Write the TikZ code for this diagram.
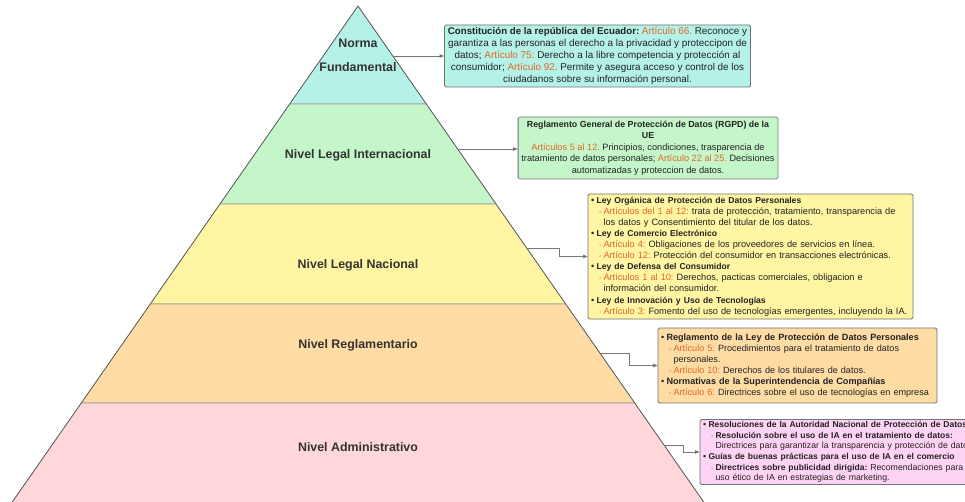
\documentclass[tikz,border=0pt]{standalone}
\usepackage{fontspec}
\setmainfont{Liberation Sans}
\usetikzlibrary{arrows.meta,calc}

% palette
\definecolor{cTeal}{HTML}{B4F1E7}
\definecolor{cGreen}{HTML}{C4F6C9}
\definecolor{cYellow}{HTML}{FFF5A3}
\definecolor{cOrange}{HTML}{FFDCA4}
\definecolor{cPink}{HTML}{FFD6D9}
\definecolor{cMagenta}{HTML}{FFD3F4}
\definecolor{cEdge}{HTML}{5A5A5A}
\definecolor{cSep}{HTML}{9A9A9A}
\definecolor{cBorder}{HTML}{727272}
\definecolor{cLine}{HTML}{767676}
\definecolor{cArt}{HTML}{E0672A}
\definecolor{cLabel}{HTML}{333333}
\definecolor{cBody}{HTML}{222222}
\definecolor{cSub}{HTML}{8A8A8A}

% heading size inside a box (each box sets its own)
\def\hdsize{9}
\newcommand\hd[1]{{\fontsize{\hdsize}{11}\selectfont\bfseries #1}}
% article references and list levels
\newcommand\artref[1]{\textcolor{cArt}{#1}}
\newcommand\itemA[1]{\makebox[5.5pt][l]{•}\hd{#1}}
\newcommand\itemB{\hspace*{8pt}\makebox[4.5pt][l]{\textcolor{cArt}{\scriptsize◦}}}
\newcommand\itemG{\hspace*{8pt}\makebox[4.5pt][l]{\textcolor{cSub}{\scriptsize◦}}}
\newcommand\itemC{\hspace*{12.5pt}}

\begin{document}
\frenchspacing
\begin{tikzpicture}[x=1pt,y=-1pt,
  layerfill/.style={draw=cSep, line width=0.6pt},
  lvl/.style={font=\fontsize{12.4}{24}\selectfont\bfseries, text=cLabel, align=center},
  infobox/.style={draw=cBorder, line width=0.8pt, rounded corners=1.5pt, text=cBody,
    inner ysep=2pt, anchor=center},
  conn/.style={draw=cLine, line width=0.8pt, -{Triangle[length=4.5pt,width=3.5pt]}}]

\clip (0,0) rectangle (965,502);
\fill[white] (0,0) rectangle (965,502);

% pyramid corners, layer by layer
\coordinate (P0) at (358,6);
\coordinate (L1) at (289.7,104); \coordinate (R1) at (426.3,104);
\coordinate (L2) at (220.0,204); \coordinate (R2) at (496.0,204);
\coordinate (L3) at (150.3,304); \coordinate (R3) at (565.7,304);
\coordinate (L4) at (81.3,403);  \coordinate (R4) at (634.7,403);
\coordinate (L5) at (6.7,510);   \coordinate (R5) at (709.3,510);

\path[layerfill, fill=cTeal]   (P0) -- (R1) -- (L1) -- cycle;
\path[layerfill, fill=cGreen]  (L1) -- (R1) -- (R2) -- (L2) -- cycle;
\path[layerfill, fill=cYellow] (L2) -- (R2) -- (R3) -- (L3) -- cycle;
\path[layerfill, fill=cOrange] (L3) -- (R3) -- (R4) -- (L4) -- cycle;
\path[layerfill, fill=cPink]   (L4) -- (R4) -- (R5) -- (L5) -- cycle;
% outer slopes
\draw[cEdge, line width=0.7pt] (L5) -- (P0) -- (R5);

% level names
\node[lvl] (n1) at (358,55)  {Norma\\Fundamental};
\node[lvl] (n2) at (358,155) {Nivel Legal Internacional};
\node[lvl] (n3) at (358,265) {Nivel Legal Nacional};
\node[lvl] (n4) at (358,345) {Nivel Reglamentario};
\node[lvl] (n5) at (358,447) {Nivel Administrativo};

% legal detail boxes
\node[infobox, fill=cTeal, minimum width=305pt, minimum height=62pt, align=center,
      font=\fontsize{9.9}{12}\selectfont\def\hdsize{9.7}] (b1) at (597.5,56)
 {\hd{Constitución de la república del Ecuador:} \artref{Artículo 66.} Reconoce y\\
  garantiza a las personas el derecho a la privacidad y proteccipon de\\
  datos; \artref{Artículo 75:} Derecho a la libre competencia y protección al\\
  consumidor; \artref{Artículo 92.} Permite y asegura acceso y control de los\\
  ciudadanos sobre su información personal.};

\node[infobox, fill=cGreen, minimum width=256pt, minimum height=62pt, align=center,
      font=\fontsize{9.2}{11.4}\selectfont\def\hdsize{8.8}] (b2) at (648,148)
 {\hd{Reglamento General de Protección de Datos (RGPD) de la}\\
  \hd{UE}\\
  \artref{Artículos 5 al 12.} Principios, condiciones, trasparencia de\\
  tratamiento de datos personales; \artref{Artículo 22 al 25.} Decisiones\\
  automatizadas y proteccion de datos.};

\node[infobox, fill=cYellow, minimum height=125pt, inner xsep=3pt, text width=319pt,
      align=left, font=\fontsize{9.2}{11.1}\selectfont\def\hdsize{8.6}] (b3) at (750.5,256.5)
 {\itemA{Ley Orgánica de Protección de Datos Personales}\\
  \itemB\artref{Artículos del 1 al 12:} trata de protección, tratamiento, transparencia de\\
  \itemC los datos y Consentimiento del titular de los datos.\\
  \itemA{Ley de Comercio Electrónico}\\
  \itemB\artref{Artículo 4:} Obligaciones de los proveedores de servicios en línea.\\
  \itemB\artref{Artículo 12:} Protección del consumidor en transacciones electrónicas.\\
  \itemA{Ley de Defensa del Consumidor}\\
  \itemB\artref{Artículos 1 al 10:} Derechos, pacticas comerciales, obligacion e\\
  \itemC información del consumidor.\\
  \itemA{Ley de Innovación y Uso de Tecnologías}\\
  \itemB\artref{Artículo 3:} Fomento del uso de tecnologías emergentes, incluyendo la IA.};

\node[infobox, fill=cOrange, minimum height=75pt, inner xsep=3pt, text width=273pt,
      align=left, font=\fontsize{9.1}{10.9}\selectfont\def\hdsize{9.1}] (b4) at (797.5,365.5)
 {\itemA{Reglamento de la Ley de Protección de Datos Personales}\\
  \itemB\artref{Artículo 5:} Procedimientos para el tratamiento de datos\\
  \itemC personales.\\
  \itemB\artref{Artículo 10:} Derechos de los titulares de datos.\\
  \itemA{Normativas de la Superintendencia de Compañías}\\
  \itemB\artref{Artículo 6:} Directrices sobre el uso de tecnologías en empresa};

\node[infobox, fill=cMagenta, minimum height=58pt, inner xsep=3pt, text width=300pt,
      align=left, font=\fontsize{8.75}{10.6}\selectfont\def\hdsize{8.5}] (b5) at (853,452)
 {\itemA{Resoluciones de la Autoridad Nacional de Protección de Datos}\\
  \itemG\hd{Resolución sobre el uso de IA en el tratamiento de datos:}\\
  \itemC Directrices para garantizar la transparencia y protección de datos\\
  \itemA{Guías de buenas prácticas para el uso de IA en el comercio}\\
  \itemG\hd{Directrices sobre publicidad dirigida:} Recomendaciones para el\\
  \itemC uso ético de IA en estrategias de marketing.};

% connectors from the pyramid slope to each box
\coordinate (e1) at (392.9,56);
\coordinate (e2) at (457.7,149);
\coordinate (e3) at (526.7,248);
\coordinate (e4) at (599.9,353);
\coordinate (e5) at (664.0,445);
\coordinate (k3) at (559,248);
\coordinate (k4) at (629,353);
\coordinate (k5) at (683,445);

\draw[conn] (e1) -- (e1 -| b1.west);
\draw[conn] (e2) -- (e2 -| b2.west);
\draw[conn] (e3) -- (k3) |- (b3.west);
\draw[conn] (e4) -- (k4) |- (b4.west);
\draw[conn] (e5) -- (k5) |- (b5.west);
\end{tikzpicture}
\end{document}
